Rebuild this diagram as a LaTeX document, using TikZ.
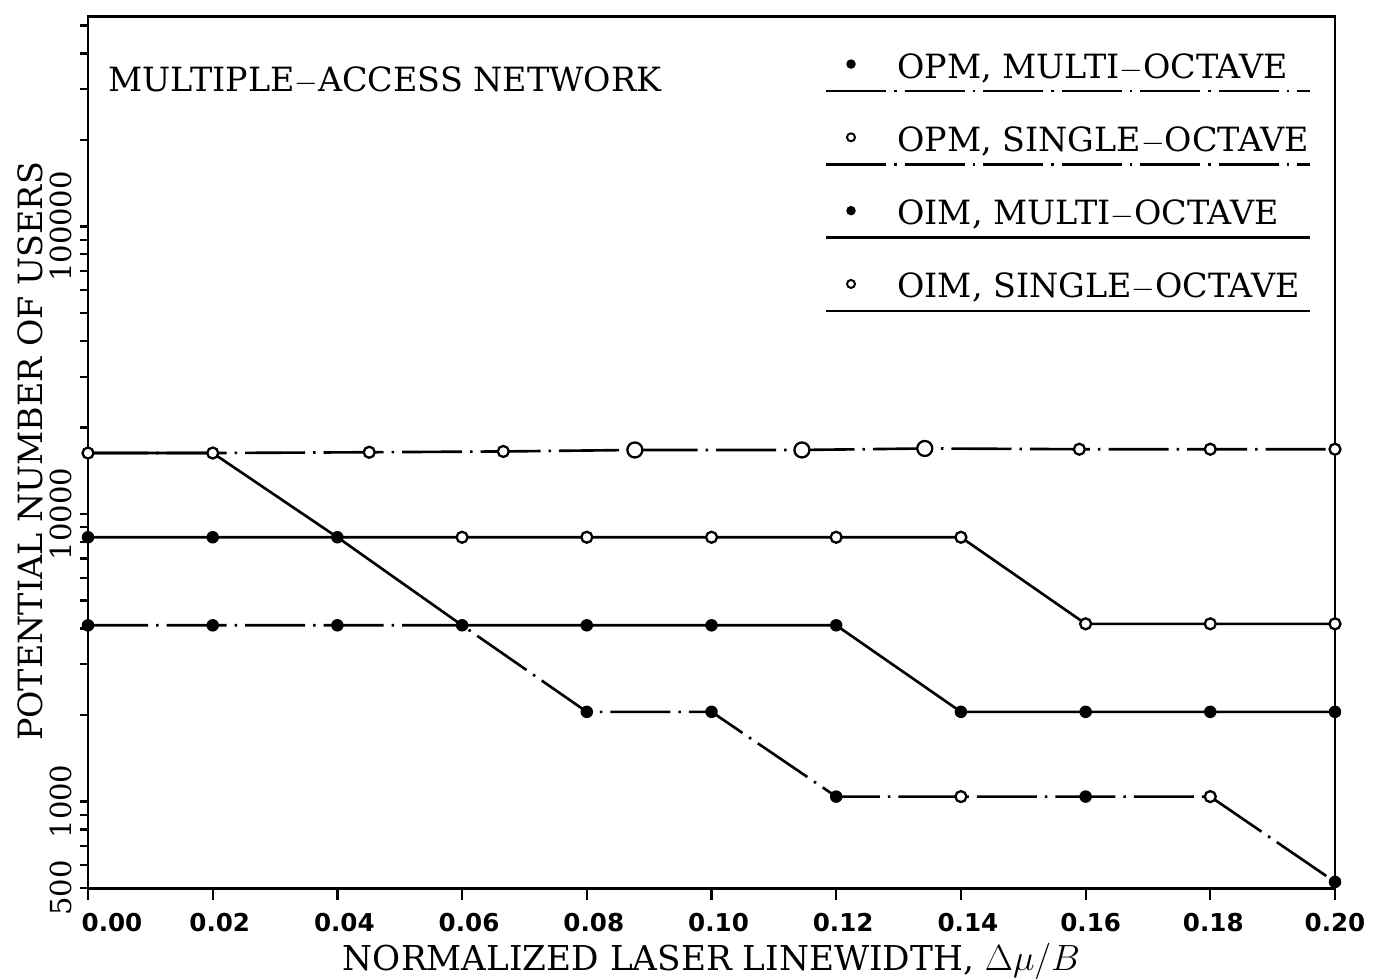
\documentclass[tikz,border=0pt]{standalone}
\usepackage{fontspec}
\usetikzlibrary{positioning}
\setmainfont{DejaVu Serif}
\newfontfamily\tickfont{DejaVu Sans}
\newcommand\plotfont{\fontsize{19}{23}\selectfont}
\newcommand\numfont{\fontsize{16.5}{20}\selectfont}

\tikzset{
  plotframe/.style={line width=1.7pt},
  axtick/.style={line width=1.3pt},
  datacurve/.style={line width=1.5pt, line join=round},
  chainline/.style={datacurve, dash pattern=on 1.2cm off 0.16cm on 0.05cm off 0.16cm},
  filledmark/.style={circle, fill=black, inner sep=0pt, minimum size=0.25cm},
  openmark/.style={circle, draw=black, fill=white, line width=1.3pt, inner sep=0pt, minimum size=0.22cm},
  bigopen/.style={openmark, minimum size=0.3cm},
  legfilled/.style={circle, fill=black, inner sep=0pt, minimum size=0.19cm},
  legopen/.style={circle, draw=black, line width=1.1pt, inner sep=0pt, minimum size=0.16cm},
  legtext/.style={anchor=base west, inner sep=0pt, font=\plotfont},
  ynum/.style={rotate=90, anchor=south, inner sep=0pt, font=\numfont},
  xnum/.style={anchor=north, inner sep=0pt, font=\tickfont\bfseries\fontsize{14}{16}\selectfont}
}

\begin{document}
\begin{tikzpicture}
  \useasboundingbox (0,0) rectangle (27.52,19.58);
  % x: linewidth, y: log10 of number of users
  \begin{scope}[shift={(1.76cm,-13.7cm)}, x=124.7cm, y=5.75cm]

  % Frame and ticks
  \draw[plotframe] (0,2.69897) rectangle (0.2,5.732);
  \foreach \e/\mfrom/\mto in {2/5/9, 3/1/9, 4/1/9, 5/1/5}
    \foreach \m in {\mfrom,...,\mto}
      \draw[axtick] (0,{\e+log10(\m)}) -- ++(-0.16cm,0);
  \foreach \x/\dx [count=\k] in {0.00/0.48,0.02/0.14,0.04/0.14,0.06/0.14,0.08/0.14,0.10/0.14,
      0.12/0.14,0.14/0.14,0.16/0.1,0.18/0.06,0.20/0} {
    \draw[axtick] (\x,2.69897) -- ++(0,-0.24cm);
    \node[xnum] (x\k) at ([xshift=\dx cm, yshift=-0.5cm]\x,2.69897) {\x};
  }
  \foreach \v/\L in {500/2.69897,1000/3,10000/4,100000/5}
    \node[ynum] (y\v) at ([xshift=-0.32cm]0,\L) {\v};

  % Axis titles
  \node[anchor=base, inner sep=0pt, font=\fontsize{19.5}{23}\selectfont] (xtitle) at ([yshift=-1.65cm]0.1,2.69897)
    {NORMALIZED LASER LINEWIDTH, $\Delta\mu/B$};
  \node[rotate=90, anchor=base, inner sep=0pt, font=\plotfont] (ytitle) at ([xshift=-0.92cm]0,4.2174)
    {POTENTIAL NUMBER OF USERS};
  \node[anchor=base west, inner sep=0pt, font=\plotfont] (title) at ([xshift=0.4cm,yshift=-1.5cm]0,5.732)
    {MULTIPLE$-$ACCESS NETWORK};

  % Curves
  \draw[chainline] (0,4.212) -- (0.02,4.212) -- (0.0451,4.2148) -- (0.0666,4.2175)
    -- (0.0877,4.2227) -- (0.1145,4.2227) -- (0.1342,4.2279) -- (0.159,4.2253)
    -- (0.18,4.2253) -- (0.20,4.2253);
  \draw[datacurve] (0,4.212) -- (0.02,4.212) -- (0.04,3.9191) -- (0.06,3.6128)
    -- (0.12,3.6128) -- (0.14,3.3118) -- (0.20,3.3118);
  \draw[datacurve] (0,3.9191) -- (0.14,3.9191) -- (0.16,3.618) -- (0.20,3.618);
  \draw[chainline] (0,3.6128) -- (0.06,3.6128) -- (0.08,3.3118) -- (0.10,3.3118)
    -- (0.12,3.017) -- (0.18,3.017) -- (0.20,2.7202);

  % Markers
  \foreach \x/\L [count=\k] in {0/4.212, 0.02/4.212, 0.0451/4.2148, 0.0666/4.2175,
      0.159/4.2253, 0.18/4.2253, 0.20/4.2253,
      0.06/3.9191, 0.08/3.9191, 0.10/3.9191, 0.12/3.9191, 0.14/3.9191,
      0.16/3.618, 0.18/3.618, 0.20/3.618, 0.14/3.017, 0.18/3.017}
    \node[openmark] (o\k) at (\x,\L) {};
  \foreach \x/\L [count=\k] in {0.0877/4.2227, 0.1145/4.2227, 0.1342/4.2279}
    \node[bigopen] (b\k) at (\x,\L) {};
  \foreach \x/\L [count=\k] in {0/3.9191, 0.02/3.9191, 0.04/3.9191,
      0/3.6128, 0.02/3.6128, 0.04/3.6128, 0.06/3.6128, 0.08/3.6128, 0.10/3.6128, 0.12/3.6128,
      0.14/3.3118, 0.16/3.3118, 0.18/3.3118, 0.20/3.3118, 0.08/3.3118, 0.10/3.3118,
      0.12/3.017, 0.16/3.017, 0.20/2.7202}
    \node[filledmark] (f\k) at (\x,\L) {};

  % Legend
  \node[legtext] (leg1) at ([xshift=16.18cm,yshift=-1.24cm]0,5.732) {OPM, MULTI$-$OCTAVE};
  \node[legtext] (leg2) at ([yshift=-1.466cm]leg1.base west) {OPM, SINGLE$-$OCTAVE};
  \node[legtext] (leg3) at ([yshift=-1.466cm]leg2.base west) {OIM, MULTI$-$OCTAVE};
  \node[legtext] (leg4) at ([yshift=-1.466cm]leg3.base west) {OIM, SINGLE$-$OCTAVE};
  \node[legfilled] (mk1) at ([xshift=-0.92cm,yshift=0.28cm]leg1.base west) {};
  \node[legopen] (mk2) at ([xshift=-0.92cm,yshift=0.28cm]leg2.base west) {};
  \node[legfilled] (mk3) at ([xshift=-0.92cm,yshift=0.28cm]leg3.base west) {};
  \node[legopen] (mk4) at ([xshift=-0.92cm,yshift=0.28cm]leg4.base west) {};
  \draw[chainline] ([xshift=-1.42cm,yshift=-0.26cm]leg1.base west) -- ([xshift=8.26cm,yshift=-0.26cm]leg1.base west);
  \draw[chainline] ([xshift=-1.42cm,yshift=-0.26cm]leg2.base west) -- ([xshift=8.26cm,yshift=-0.26cm]leg2.base west);
  \draw[datacurve] ([xshift=-1.42cm,yshift=-0.26cm]leg3.base west) -- ([xshift=8.26cm,yshift=-0.26cm]leg3.base west);
  \draw[datacurve] ([xshift=-1.42cm,yshift=-0.26cm]leg4.base west) -- ([xshift=8.26cm,yshift=-0.26cm]leg4.base west);

  \end{scope}
\end{tikzpicture}
\end{document}
